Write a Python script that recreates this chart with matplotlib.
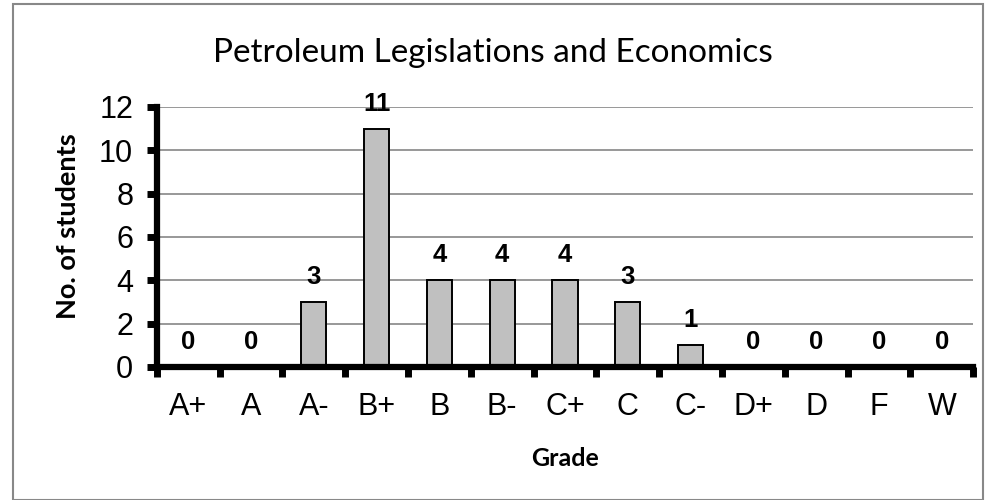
import matplotlib
matplotlib.use('Agg')
import matplotlib.pyplot as plt
from matplotlib.patches import Rectangle

# grade distribution
grades = ['A+', 'A', 'A-', 'B+', 'B', 'B-', 'C+', 'C', 'C-', 'D+', 'D', 'F', 'W']
students = [0, 0, 3, 11, 4, 4, 4, 3, 1, 0, 0, 0, 0]

fig = plt.figure(figsize=(9.86, 5), dpi=100)
ax = fig.add_axes([0.159, 0.266, 0.828, 0.52])

x = range(len(grades))
bars = ax.bar(x, students, width=0.4, color='#c0c0c0', edgecolor='black', linewidth=1.4, zorder=3)
for xi, v in zip(x, students):
    ax.text(xi, v + 0.83, str(v), ha='center', va='baseline', fontsize=18.5,
            fontweight='bold', family='Liberation Sans', zorder=5)

ax.set_xlim(-0.5, len(grades) - 0.5)
ax.set_ylim(0, 12)
ax.set_yticks(range(0, 13, 2))
ax.set_xticks(x)
ax.set_xticklabels(grades)
ax.set_xticks([i - 0.5 for i in range(len(grades) + 1)], minor=True)
ax.tick_params(axis='x', which='major', length=0, pad=18)
ax.tick_params(axis='x', which='minor', length=7, width=5, direction='out')
ax.tick_params(axis='y', length=7, width=5, direction='out', pad=10)
for lab in ax.get_xticklabels() + ax.get_yticklabels():
    lab.set_family('Liberation Sans')
    lab.set_fontsize(22)

ax.grid(axis='y', color='#868686', linewidth=1.2, zorder=0)
for s in ['top', 'right']:
    ax.spines[s].set_visible(False)
for s in ['left', 'bottom']:
    ax.spines[s].set_linewidth(4.5)
ax.spines['bottom'].set_zorder(4)

fig.text(0.573, 0.084, 'Grade', ha='center', va='center', fontsize=18,
         fontweight='bold', family='Lato')
fig.text(0.069, 0.548, 'No. of students', ha='center', va='center', rotation=90,
         fontsize=19.5, fontweight='bold', family='Lato')
fig.text(0.5, 0.895, 'Petroleum Legislations and Economics', ha='center', va='center',
         fontsize=24, family='Lato')

fig.patches.append(Rectangle((0.013, 0.0), 0.984, 0.992, transform=fig.transFigure,
                             fill=False, edgecolor='#888888', linewidth=1.5))

fig.savefig('out.png', dpi=100)
